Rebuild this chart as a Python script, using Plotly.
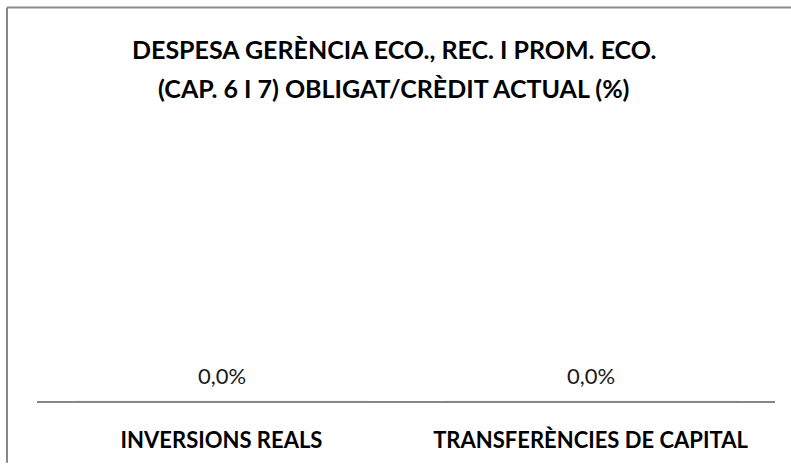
import plotly.graph_objects as go

# Budget execution ratio (obligations / current credit), chapters 6 and 7
categories = ["INVERSIONS REALS", "TRANSFERÈNCIES DE CAPITAL"]
values = [0.0, 0.0]
labels = [f"{v:.1f}%".replace(".", ",") for v in values]

title_lines = ["DESPESA GERÈNCIA ECO., REC. I PROM. ECO.",
               "(CAP. 6 I 7) OBLIGAT/CRÈDIT ACTUAL (%)"]

FONT = "Lato"
W, H = 791, 465
L, R, T, B = 37, 16, 120, 58
pw, ph = W - L - R, H - T - B


def px_x(x):
    return (x - L) / pw


def px_y(y):
    return (H - B - y) / ph


fig = go.Figure()
fig.add_trace(go.Bar(
    x=categories, y=values,
    marker_color="#4F81BD",
    hoverinfo="skip",
))

# value labels sitting above each (zero-height) bar
for c, v, t in zip(categories, values, labels):
    fig.add_annotation(
        x=c, y=v, xref="x", yref="y", text=t, showarrow=False,
        yshift=26, font=dict(family=FONT, size=22, color="#1a1a1a"),
    )

# two-line title, centred over the whole chart
for line, yc in zip(title_lines, [47, 87]):
    fig.add_annotation(
        x=px_x(W / 2 - 2), y=px_y(yc), xref="paper", yref="paper",
        xanchor="center", yanchor="middle", text=line, showarrow=False,
        font=dict(family=FONT, size=25, color="#000000", weight="bold"),
    )

# frame edges of the chart area (top and left)
frame = dict(color="#898989", width=2)
fig.add_shape(type="line", xref="paper", yref="paper",
              x0=px_x(7), x1=px_x(W + 5), y0=px_y(5), y1=px_y(5),
              line=frame, layer="above")
fig.add_shape(type="line", xref="paper", yref="paper",
              x0=px_x(7), x1=px_x(7), y0=px_y(5), y1=px_y(H + 5),
              line=frame, layer="above")

fig.update_layout(
    width=W, height=H,
    margin=dict(l=L, r=R, t=T, b=B),
    paper_bgcolor="white", plot_bgcolor="white",
    showlegend=False,
    xaxis=dict(
        showline=True, linecolor="#878787", linewidth=2,
        showgrid=False, ticks="", ticklabelstandoff=19,
        tickfont=dict(family=FONT, size=22, color="#000000", weight="bold"),
        fixedrange=True,
    ),
    yaxis=dict(
        range=[0, 1], visible=False, showgrid=False, zeroline=False,
        fixedrange=True,
    ),
)

fig.write_html("out.html")
